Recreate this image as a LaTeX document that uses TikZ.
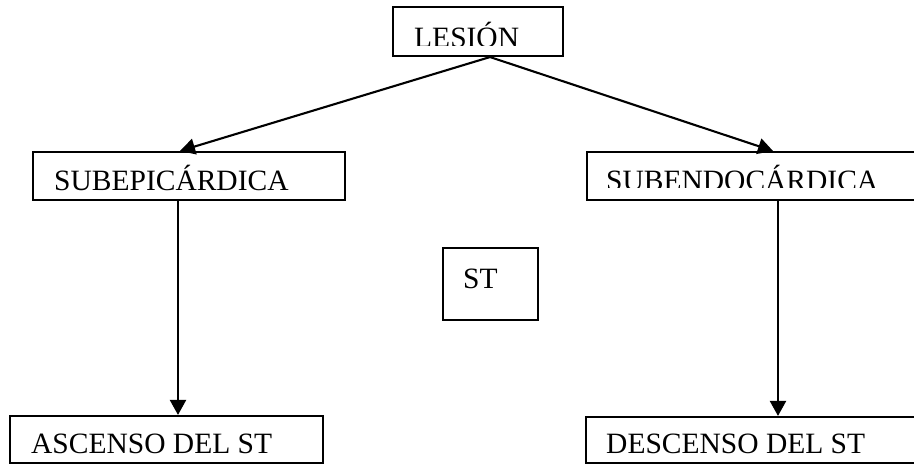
\documentclass[tikz,border=0pt]{standalone}
\usepackage{fontspec}
\setmainfont{Liberation Serif}
\usetikzlibrary{arrows.meta,calc}
\begin{document}
\begin{tikzpicture}[x=1pt,y=-1pt,
  box/.style={draw,line width=2.1pt,rectangle,inner sep=0pt},
  lbl/.style={anchor=base west,inner sep=0pt,font=\fontsize{29.5}{31}\selectfont},
  arr/.style={line width=2.1pt,-{Triangle[length=15pt,width=16pt]}}]
\useasboundingbox (0,0) rectangle (914,466);
\clip (0,0) rectangle (914,466);
% boxes
\node[box,minimum width=170pt,minimum height=49pt] (les) at (478,31.5) {};
\node[box,minimum width=312pt,minimum height=48pt] (epi) at (189,176) {};
\node[box,minimum width=348pt,minimum height=48pt] (endo) at (761,176) {};
\node[box,minimum width=95pt,minimum height=72pt] (st) at (490.5,284) {};
\node[box,minimum width=313pt,minimum height=47pt] (asc) at (166.5,439.5) {};
\node[box,minimum width=349pt,minimum height=46pt] (desc) at (760.5,440) {};
% labels
\begin{scope}
  \clip (395,9) rectangle (561,45);
  \node[lbl] (lesT) at (414,47) {LESIÓN};
\end{scope}
\node[lbl] (epiT) at (54,190) {SUBEPICÁRDICA};
\begin{scope}
  \clip (589,154) rectangle (914,187);
  \node[lbl] (endoT) at (606,190) {SUBENDOCÁRDICA};
\end{scope}
\node[lbl] (stT) at (463,288) {ST};
\node[lbl] (ascT) at (31,453) {ASCENSO DEL ST};
\node[lbl] (descT) at (606,453) {DESCENSO DEL ST};
% connectors
\coordinate (lesout) at ([xshift=12pt]les.south);
\draw[arr] (lesout) -- ([xshift=-9pt]epi.north);
\draw[arr] (lesout) -- ([xshift=12pt]endo.north);
\draw[arr] ([xshift=-11pt]epi.south) -- ([xshift=-11pt]epi.south |- asc.north);
\draw[arr] ([xshift=17pt]endo.south) -- ([xshift=17pt]endo.south |- desc.north);
\end{tikzpicture}
\end{document}
